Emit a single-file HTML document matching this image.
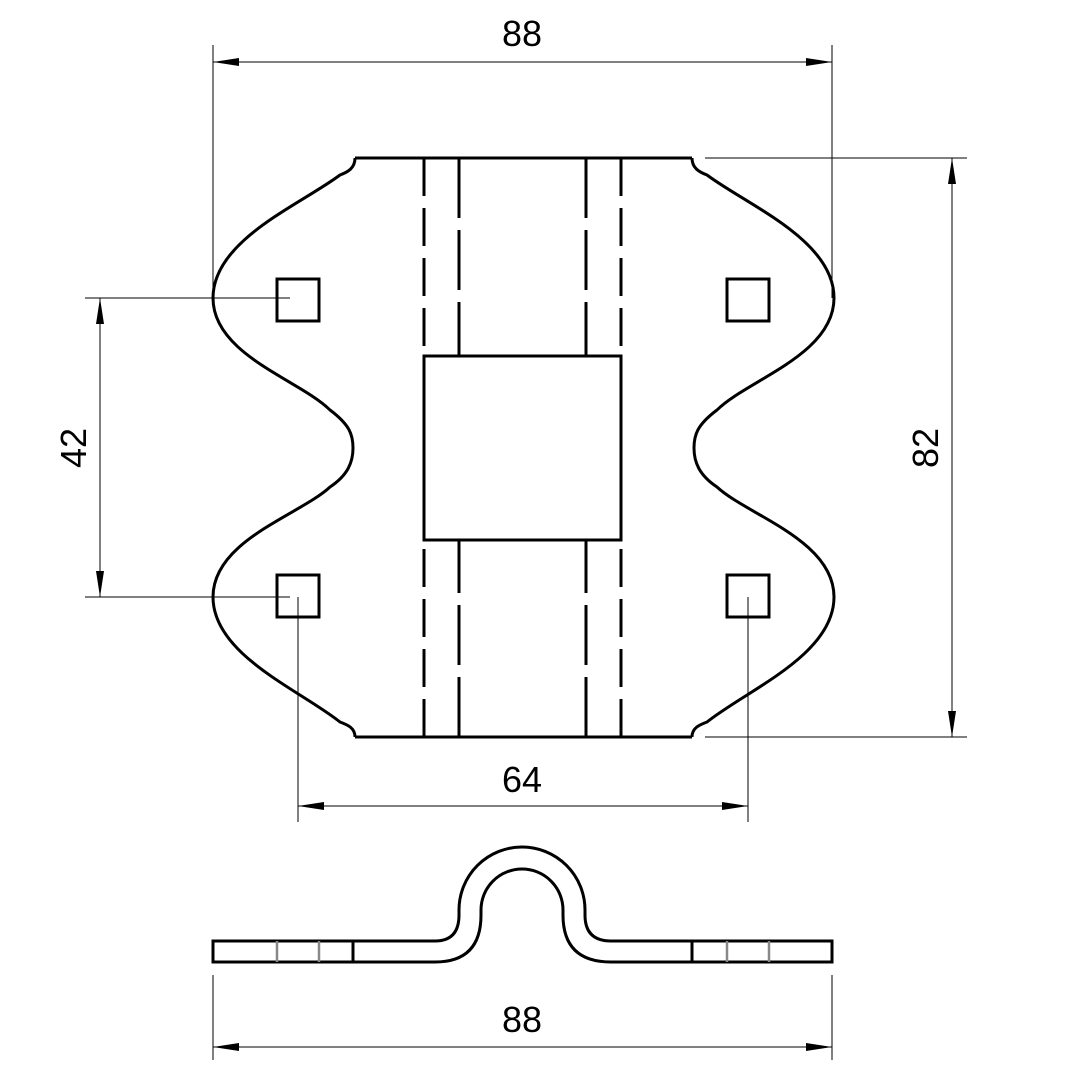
<!DOCTYPE html>
<html><head><style>body{margin:0;background:#fff}</style></head><body>
<svg width="1080" height="1080" viewBox="0 0 1080 1080" xmlns="http://www.w3.org/2000/svg">
<defs>
<marker id="a" viewBox="0 0 26 8" refX="26" refY="4" markerWidth="26" markerHeight="8" markerUnits="userSpaceOnUse" orient="auto-start-reverse"><path d="M0,0 L26,4 L0,8 Z" fill="#000"/></marker>
</defs>
<g stroke="#000" stroke-width="3" fill="none">
<path id="L" d="M355,158 C355,168 348,172 340,175 C300,205 213,240 213,298 C213,355 300,380 330,410 C350,425 353,435 353,448 C353,462 348,475 330,487 C300,515 213,540 213,597 C213,655 300,690 340,722 C348,725 355,728 355,737"/>
<path d="M692,158 C692,168 699,172 707,175 C747,205 834,240 834,298 C834,355 747,380 717,410 C697,425 694,435 694,448 C694,462 699,475 717,487 C747,515 834,540 834,597 C834,655 747,690 707,722 C699,725 692,728 692,737"/>
<line x1="355" y1="158" x2="692" y2="158"/>
<line x1="355" y1="737" x2="692" y2="737"/>
<rect x="277" y="279" width="42" height="42"/>
<rect x="727" y="279" width="42" height="42"/>
<rect x="277" y="575" width="42" height="42"/>
<rect x="727" y="575" width="42" height="42"/>
<rect x="424" y="356" width="197" height="184"/>
<g stroke-dasharray="38,12">
<line x1="424" y1="158" x2="424" y2="356"/><line x1="621" y1="158" x2="621" y2="356"/>
<line x1="424" y1="737" x2="424" y2="540"/><line x1="621" y1="737" x2="621" y2="540"/>
</g>
<g stroke-dasharray="60,12">
<line x1="459" y1="158" x2="459" y2="356"/><line x1="586" y1="158" x2="586" y2="356"/>
<line x1="459" y1="737" x2="459" y2="540"/><line x1="586" y1="737" x2="586" y2="540"/>
</g>
<path d="M213,941 H435 Q459,941 459,915 V910 A63,63 0 0 1 585,910 V915 Q585,941 611,941 H832 V962 H611 Q563,962 563,915 V910 A41,41 0 0 0 481,910 V915 Q481,962 435,962 H213 Z"/>
<line x1="353" y1="941" x2="353" y2="962"/><line x1="692" y1="941" x2="692" y2="962"/>
</g>
<g stroke="#888" stroke-width="2.5">
<line x1="277" y1="941" x2="277" y2="962"/><line x1="319" y1="941" x2="319" y2="962"/>
<line x1="727" y1="941" x2="727" y2="962"/><line x1="769" y1="941" x2="769" y2="962"/>
</g>
<g stroke="#000" stroke-width="1" fill="none">
<line x1="213" y1="45" x2="213" y2="298"/><line x1="832" y1="45" x2="832" y2="298"/>
<line x1="705" y1="158" x2="967" y2="158"/><line x1="705" y1="737" x2="967" y2="737"/>
<line x1="85" y1="298" x2="290" y2="298"/><line x1="85" y1="597" x2="290" y2="597"/>
<line x1="298" y1="597" x2="298" y2="822"/><line x1="748" y1="597" x2="748" y2="822"/>
<line x1="213" y1="975" x2="213" y2="1060"/><line x1="832" y1="975" x2="832" y2="1060"/>
<line x1="213" y1="62" x2="832" y2="62" marker-start="url(#a)" marker-end="url(#a)"/>
<line x1="952" y1="158" x2="952" y2="737" marker-start="url(#a)" marker-end="url(#a)"/>
<line x1="100" y1="298" x2="100" y2="597" marker-start="url(#a)" marker-end="url(#a)"/>
<line x1="298" y1="806" x2="748" y2="806" marker-start="url(#a)" marker-end="url(#a)"/>
<line x1="213" y1="1047" x2="832" y2="1047" marker-start="url(#a)" marker-end="url(#a)"/>
</g>
<g font-family="Liberation Sans, sans-serif" font-size="36" text-anchor="middle" fill="#000">
<text x="522" y="46">88</text>
<text x="522" y="792">64</text>
<text x="522" y="1032">88</text>
<text transform="translate(938,448) rotate(-90)">82</text>
<text transform="translate(86,448) rotate(-90)">42</text>
</g>
</svg>
</body></html>
